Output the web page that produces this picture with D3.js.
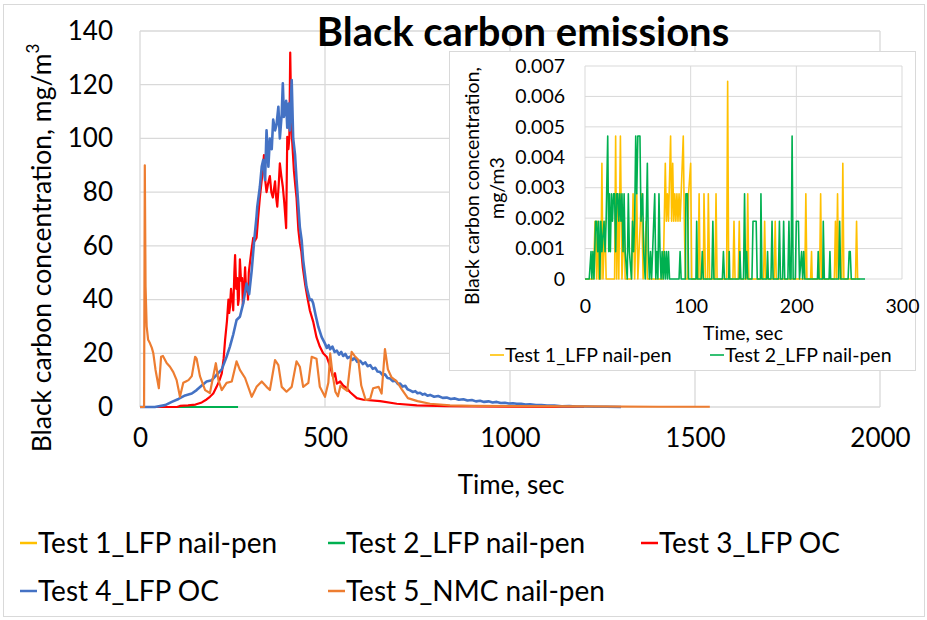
<!DOCTYPE html>
<html><head><meta charset="utf-8">
<script src="https://cdn.jsdelivr.net/npm/d3@7"></script>
<style>
body{margin:0;background:#fff}
svg text{font-family:Lato,"Open Sans",sans-serif;fill:#000}
</style>
</head><body>
<svg id="c" width="927" height="620"></svg>
<script>
// ---------- DATA ----------
const seriesNames = ["Test 1_LFP nail-pen","Test 2_LFP nail-pen","Test 3_LFP OC","Test 4_LFP OC","Test 5_NMC nail-pen"];
const seriesColors = ["#FFC000","#00B050","#FF0000","#4472C4","#ED7D31"];
const mainXTicks = [0,500,1000,1500,2000];
const mainYTicks = [0,20,40,60,80,100,120,140];
const insetXTicks = [0,100,200,300];
const insetYTicks = [0,0.001,0.002,0.003,0.004,0.005,0.006,0.007];
const insetYTickLabels = ["0","0.001","0.002","0.003","0.004","0.005","0.006","0.007"];

// [time s, mg/m3]
const test1 = [[0,0],[8,0],[9.5,0.0019],[11,0],[12,0.0019],[13,0],[15,0],[16,0.0038],[17,0],[19,0.0019],[20,0],[28,0],[29,0.0047],[30,0],[31,0.0028],[32,0],[33.5,0.0047],[35,0],[37,0.0019],[38,0],[44,0],[45.5,0.0028],[47,0],[49,0.0028],[50,0],[53.5,0.0028],[55,0],[58,0.0019],[59,0],[74,0],[76,0.0038],[77,0.0019],[78,0.0028],[79,0.0019],[81,0.0047],[82,0.0019],[83,0.0038],[84,0.0019],[85,0.0028],[86,0.0019],[87,0.0028],[88,0.0019],[89,0.0028],[90,0.0019],[91,0.0028],[93,0.0047],[94,0.0019],[95,0],[97,0],[98,0.0028],[100,0.0038],[101,0],[107,0],[108,0.0028],[109,0],[112,0],[112.6,0.0028],[114,0],[116,0],[116.7,0.0028],[118,0],[123,0],[124,0.0028],[125,0],[134,0],[135,0.0065],[136,0],[140,0],[141,0.0019],[142,0],[145,0],[146,0.0019],[147,0],[153,0],[154,0.0028],[155,0],[169,0],[170,0.0019],[171,0],[179,0],[180,0.0019],[181,0],[208,0],[209,0.0028],[210,0],[213.5,0],[214.4,0.0009],[215,0],[222,0],[223,0.0028],[224,0],[236,0],[237,0.0019],[238,0],[239,0.0028],[240,0],[243,0],[244,0.0038],[245,0],[256,0],[257,0.0019],[258,0],[260,0]];

const test2 = [[0,0],[4,0],[5.7,0.0009],[6.5,0],[7.5,0.0009],[8.5,0],[10,0.0019],[11,0.0019],[12,0.0009],[13,0.0019],[14,0],[15,0.0019],[16,0.0009],[18,0.0019],[19,0.0009],[20,0.0019],[21.5,0.0047],[22.5,0.0009],[23,0.0028],[24,0.0009],[25,0.0028],[26,0.0019],[27,0.0028],[28,0.0028],[29,0.0009],[30,0.0028],[31,0.0028],[32,0.0019],[33,0.0028],[34,0.0019],[35,0.0028],[36,0.0009],[37,0.0028],[38,0.0009],[40,0],[41,0.0028],[42,0.0009],[44,0],[45,0.0019],[46,0.0009],[47,0.0019],[48,0.0047],[49,0.0028],[50,0.0047],[52,0.0047],[53,0.0019],[54.6,0.0028],[55.5,0.0009],[57,0],[59,0.0038],[60,0.0009],[61,0],[62,0.0009],[63,0],[64,0.0009],[66,0.0028],[67,0],[68,0.0009],[69,0],[70,0.0028],[71,0.0009],[72,0],[73,0.0009],[74,0],[75,0.0009],[76,0],[77,0.0009],[78,0],[79,0.0009],[80,0],[89,0],[90,0.0009],[91,0],[95,0],[95.5,0.0028],[97,0.0028],[98,0],[105,0],[105.7,0.0019],[106.5,0],[110,0],[111,0.0009],[112,0],[120,0],[121,0.0019],[122,0],[130,0],[131,0.0009],[132,0],[136,0],[136.5,0.0009],[137,0],[146,0],[146.6,0.0009],[147.5,0],[150,0],[151,0.0028],[152,0],[153,0.0009],[154,0],[158,0],[159,0.0019],[162,0.0019],[163,0],[166,0],[166.5,0.0028],[167.5,0],[172,0],[172.8,0.0009],[173.5,0],[176,0],[177,0.0019],[178,0],[183,0],[184,0.0019],[185,0],[187,0],[188,0.0019],[189,0],[192,0],[193,0.0019],[194,0],[195,0],[196,0.0047],[197,0],[199,0],[200,0.0019],[202,0.0019],[203,0],[205,0.0009],[206,0],[207,0.0009],[208,0],[220,0],[220.7,0.0009],[221.5,0],[225,0],[225.5,0.0019],[226.5,0],[231,0],[231.8,0.0009],[232.5,0],[240,0],[241,0.0019],[242,0],[249,0],[250,0.0009],[251,0.0009],[252,0],[265,0]];

const test3 = [[10,0],[100,0],[108,0.4],[130,0.6],[150,0.9],[167,1.7],[180,2.8],[189,3.8],[198,5],[207,7.5],[215,10],[221,12.5],[226,18],[230,25],[235,32],[239,40],[241,35],[243,37],[246,44],[248,41],[250,39],[252,36],[255,50],[257,56.6],[260,44],[263,48],[265,38],[267,40],[270,55],[273,47],[276,48],[278,38],[280,40],[284,52],[287,43],[290,44.8],[292,40],[294,50],[297,53.6],[301,58],[306,63],[311,62],[315,63],[319,70],[324,78],[329,84.5],[332,88],[335,93.8],[338,85],[342,80],[346,83],[351,86],[355,80],[359,78],[362,81],[365,84],[368,78],[371,74.6],[375,83],[378,90.7],[382,86],[386,82],[390,76],[395,66.6],[398,100.6],[401,96],[403.6,100],[406,132],[408,115],[410,102],[413,95],[416,88],[420,82],[423,78],[428,66],[432,61],[436,58],[440,52],[446,46],[452,41],[459,36],[468,31.8],[477,26],[486,22.5],[495,20],[505,18.6],[514,15],[522,11],[527,12.6],[532,8.7],[541,9.5],[549,8],[559,7],[568,5.5],[586,3.3],[604,2.7],[649,2.2],[694,1.2],[748,0.6],[829,0.3],[1000,0.1],[1200,0]];

const test4 = [[0,0],[40,0],[68,0.7],[86,1.9],[104,3],[122,4.3],[140,5],[153,6.3],[167,8],[180,9.5],[194,10],[207,12],[221,14],[234,18.7],[243,22.5],[248,25],[252,27],[261,32.4],[270,33.6],[279,38.6],[288,46],[295,42],[302,51],[308,61],[315,71],[317,74.6],[324,82],[329,89.5],[333,92],[338,84.5],[342,103],[347,89.5],[351,100],[356,96],[360,107],[365,103],[369,105],[374,111.8],[378,100],[383,109],[386,120.5],[389,108],[395,114],[398,104],[402,113],[405,103],[410,121.7],[414,100],[419,94],[423,85],[428,75],[432,67],[437,62],[441,54.7],[450,44.8],[455,42],[459,39.8],[464,40],[468,38.6],[475,34],[482,29.8],[491,26],[500,23.6],[505,22],[510,23],[514,21.5],[520,22.5],[526,20.5],[532,21],[538,19.5],[544,20.5],[549,19],[555,19.8],[561,18.2],[568,18.8],[574,17.5],[580,18.3],[587,16.8],[595,17.2],[602,16],[609,16.6],[615,15.2],[622,15.6],[629,14.2],[636,14.6],[642,13.2],[649,13],[656,11.8],[662,12.2],[669,10.8],[676,10.6],[683,9.6],[690,9.9],[697,8.6],[703,8.7],[710,7.6],[717,7.9],[723,6.6],[730,6.2],[737,5.6],[744,5.9],[750,5.1],[757,5.3],[764,4.6],[770,4.9],[777,4.2],[784,4.5],[795,3.8],[806,4.1],[818,3.4],[829,3.5],[840,3.0],[851,3.2],[862,2.7],[874,2.9],[885,2.4],[897,2.6],[908,2.1],[919,2.3],[930,1.9],[942,2.1],[953,1.7],[964,1.9],[975,1.5],[986,1.6],[997,1.3],[1008,1.4],[1018,1.2],[1030,1.2],[1042,0.9],[1054,1],[1070,0.7],[1085,0.7],[1100,0.5],[1120,0.5],[1140,0.3],[1160,0.35],[1180,0.2],[1200,0.2],[1230,0.1],[1260,0.1],[1300,0]];

const test5 = [[0,0],[11,0],[13,90],[15,45],[18,30],[22,25],[27,23.7],[32,22],[36,20],[42,13.8],[51,7],[57,18.7],[62,19],[66,18],[72,16.4],[81,15],[90,13],[99,10],[108,3.8],[117,9],[124,9.5],[131,10],[140,11.5],[149,18.7],[153,18],[162,11.5],[176,6.3],[189,5.2],[198,11.5],[205,16.3],[212,10],[221,6.3],[234,9],[248,9.5],[261,17],[270,13.8],[284,10.8],[302,3.8],[315,7.5],[329,9.5],[342,7.5],[351,6.3],[365,17.5],[374,15.6],[383,7.5],[396,5.7],[410,7.5],[423,17],[432,15],[441,7.5],[455,9],[464,18.7],[477,18],[486,7.5],[500,3.8],[509,9],[514,20],[520,12.6],[528,5.7],[535,4],[542,8],[550,7],[560,6],[572,20.5],[580,19],[590,17.6],[598,8],[610,2.6],[622,3],[630,7],[645,7.5],[653,5],[662,21.6],[670,14],[680,11],[694,9.5],[708,6.5],[724,3.3],[750,2.2],[784,1.2],[838,0.6],[900,0.4],[1000,0.3],[1200,0.2],[1400,0.1],[1540,0.1]];

const mainSeries = [test1,test2,test3,test4,test5];
const insetSeries = [test1,test2];

// ---------- DRAW ----------
const svg = d3.select("#c");
svg.append("rect").attr("x",0).attr("y",0).attr("width",927).attr("height",620).attr("fill","#fff");
svg.append("rect").attr("x",3.5).attr("y",4.5).attr("width",921).attr("height",612)
   .attr("fill","none").attr("stroke","#d9d9d9").attr("stroke-width",1);

const grid = "#d9d9d9";
const x = d3.scaleLinear().domain([0,2000]).range([140,880]);
const y = d3.scaleLinear().domain([0,140]).range([407,31]);

svg.selectAll("line.hg").data(mainYTicks).join("line").attr("class","hg")
  .attr("x1",x(0)).attr("x2",x(2000)).attr("y1",d=>y(d)).attr("y2",d=>y(d))
  .attr("stroke",grid).attr("stroke-width",1.3);
svg.selectAll("line.vg").data(mainXTicks).join("line").attr("class","vg")
  .attr("y1",y(0)).attr("y2",y(140)).attr("x1",d=>x(d)).attr("x2",d=>x(d))
  .attr("stroke",grid).attr("stroke-width",1.3);

const yAx = svg.append("g").attr("transform","translate(140,0)")
  .call(d3.axisLeft(y).tickValues(mainYTicks).tickSize(0).tickPadding(27).tickFormat(d3.format("d")));
yAx.select(".domain").remove();
yAx.selectAll("text").attr("font-size",26).attr("font-family","Lato");

const xAx = svg.append("g").attr("transform","translate(0,407)")
  .call(d3.axisBottom(x).tickValues(mainXTicks).tickSize(0).tickPadding(22).tickFormat(d3.format("d")));
xAx.select(".domain").remove();
xAx.selectAll("text").attr("font-size",26).attr("font-family","Lato");

const line = d3.line().x(d=>x(d[0])).y(d=>y(d[1]));
const mainWidths = [2.2,2.2,2.2,2.6,2.2];
mainSeries.forEach((s,i)=>{
  svg.append("path").datum(s).attr("d",line).attr("fill","none")
    .attr("stroke",seriesColors[i]).attr("stroke-width",mainWidths[i]).attr("stroke-linejoin","round");
});

const yt = svg.append("text").attr("transform","translate(42,248) rotate(-90)")
  .attr("text-anchor","middle").attr("dy","0.35em").attr("font-size",26.5);
yt.append("tspan").text("Black carbon concentration, mg/m");
yt.append("tspan").text("3").attr("font-size",17).attr("dy","-0.7em");

svg.append("text").attr("x",511).attr("y",485).attr("dy","0.35em").attr("text-anchor","middle")
  .attr("font-size",26).text("Time, sec");

svg.append("text").attr("x",523).attr("y",46).attr("text-anchor","middle")
  .attr("font-size",40).attr("font-weight","bold").text("Black carbon emissions");

// ---------- INSET ----------
svg.append("rect").attr("x",449.5).attr("y",51.5).attr("width",466).attr("height",319)
  .attr("fill","#fff").attr("stroke","#d9d9d9");
const xi = d3.scaleLinear().domain([0,300]).range([585,902]);
const yi = d3.scaleLinear().domain([0,0.007]).range([279,66]);
svg.selectAll("line.ihg").data(insetYTicks).join("line").attr("class","ihg")
  .attr("x1",xi(0)).attr("x2",xi(300)).attr("y1",d=>yi(d)).attr("y2",d=>yi(d))
  .attr("stroke",grid).attr("stroke-width",1);
svg.selectAll("line.ivg").data(insetXTicks).join("line").attr("class","ivg")
  .attr("y1",yi(0)).attr("y2",yi(0.007)).attr("x1",d=>xi(d)).attr("x2",d=>xi(d))
  .attr("stroke",grid).attr("stroke-width",1);

const yiAx = svg.append("g").attr("transform","translate(585,0)")
  .call(d3.axisLeft(yi).tickValues(insetYTicks).tickSize(0).tickPadding(20)
    .tickFormat((d,i)=>insetYTickLabels[i]));
yiAx.select(".domain").remove();
yiAx.selectAll("text").attr("font-size",19.5).attr("font-family","Lato");

const xiAx = svg.append("g").attr("transform","translate(0,279)")
  .call(d3.axisBottom(xi).tickValues(insetXTicks).tickSize(0).tickPadding(20));
xiAx.select(".domain").remove();
xiAx.selectAll("text").attr("font-size",19.5).attr("font-family","Lato");

const lineI = d3.line().x(d=>xi(d[0])).y(d=>yi(d[1]));
insetSeries.forEach((s,i)=>{
  svg.append("path").datum(s).attr("d",lineI).attr("fill","none")
    .attr("stroke",seriesColors[i]).attr("stroke-width",1.6).attr("stroke-linejoin","round");
});

svg.append("text").attr("transform","translate(472,186) rotate(-90)").attr("text-anchor","middle")
  .attr("dy","0.35em").attr("font-size",19.5).text("Black carbon concentration,");
svg.append("text").attr("transform","translate(497,188) rotate(-90)").attr("text-anchor","middle")
  .attr("dy","0.35em").attr("font-size",19.5).text("mg/m3");
svg.append("text").attr("x",743).attr("y",333).attr("dy","0.35em").attr("text-anchor","middle")
  .attr("font-size",19.5).text("Time, sec");

const insetLegX = [490,710];
insetSeries.forEach((s,i)=>{
  svg.append("line").attr("x1",insetLegX[i]).attr("x2",insetLegX[i]+14).attr("y1",355).attr("y2",355)
    .attr("stroke",seriesColors[i]).attr("stroke-width",1.6);
  svg.append("text").attr("x",insetLegX[i]+15).attr("y",355).attr("dy","0.35em")
    .attr("font-size",19.5).text(seriesNames[i]);
});

// ---------- MAIN LEGEND ----------
const legPos = [[20,543],[328,543],[641,543],[20,591],[328,591]];
seriesNames.forEach((n,i)=>{
  const [lx,ly] = legPos[i];
  svg.append("line").attr("x1",lx).attr("x2",lx+17).attr("y1",ly).attr("y2",ly)
    .attr("stroke",seriesColors[i]).attr("stroke-width",2.5);
  svg.append("text").attr("x",lx+18).attr("y",ly).attr("dy","0.35em")
    .attr("font-size",28).text(n);
});
</script>
</body></html>
